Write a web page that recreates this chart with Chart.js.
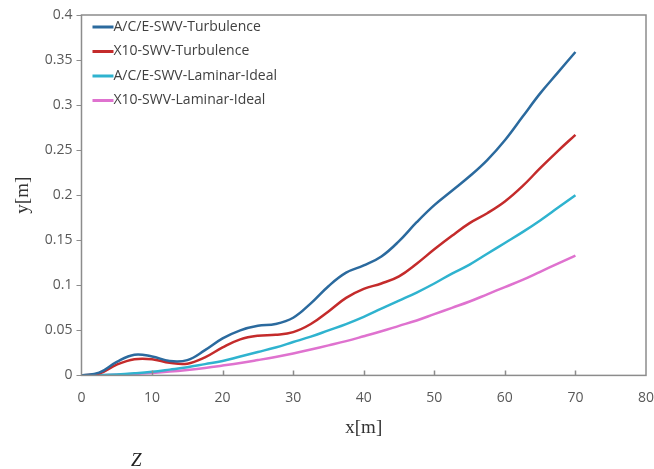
<!DOCTYPE html>
<html>
<head>
<meta charset="utf-8">
<script src="https://cdn.jsdelivr.net/npm/chart.js@4.4.1/dist/chart.umd.min.js"></script>
<style>
  html, body { margin: 0; padding: 0; background: #fff; }
  #wrap { position: relative; width: 654px; height: 469px; }
  #zlabel { position: absolute; left: 131px; top: 449px; font: italic 19px "Liberation Serif", serif; color: #222; }
</style>
</head>
<body>
<div id="wrap">
  <canvas id="trajChart" width="654" height="469"></canvas>
  <div id="zlabel">Z</div>
</div>
<script>
// x positions [m]
const xValues = [0, 2.5, 5, 7.5, 10, 12.5, 15, 17.5, 20, 22.5, 25, 27.5, 30, 32.5, 35,
  37.5, 40, 42.5, 45, 47.5, 50, 52.5, 55, 57.5, 60, 62.5, 65, 67.5, 70];

const seriesLabels = ["A/C/E-SWV-Turbulence", "X10-SWV-Turbulence",
  "A/C/E-SWV-Laminar-Ideal", "X10-SWV-Laminar-Ideal"];
const seriesColors = ["#2b6a9e", "#c42b2b", "#2fb3cf", "#df72cf"];

const aceTurb = [0, 0.003, 0.015, 0.023, 0.021, 0.016, 0.017, 0.028, 0.041, 0.050, 0.055,
  0.057, 0.064, 0.080, 0.099, 0.114, 0.122, 0.132, 0.149, 0.170, 0.189, 0.205, 0.221,
  0.239, 0.261, 0.287, 0.313, 0.336, 0.359];
const x10Turb = [0, 0.002, 0.012, 0.018, 0.018, 0.014, 0.013, 0.020, 0.031, 0.040, 0.044,
  0.045, 0.048, 0.057, 0.071, 0.086, 0.096, 0.102, 0.110, 0.124, 0.140, 0.155, 0.169,
  0.180, 0.193, 0.210, 0.230, 0.249, 0.267];
const aceLam = [0, 0.0003, 0.001, 0.0023, 0.004, 0.0064, 0.009, 0.0125, 0.016, 0.021, 0.026,
  0.031, 0.037, 0.043, 0.050, 0.057, 0.065, 0.074, 0.083, 0.092, 0.102, 0.113, 0.123,
  0.135, 0.147, 0.159, 0.172, 0.186, 0.200];
const x10Lam = [0, 0.0002, 0.0007, 0.0015, 0.0027, 0.0042, 0.0061, 0.0083, 0.0109, 0.0137,
  0.017, 0.0205, 0.0244, 0.0287, 0.0333, 0.038, 0.0434, 0.049, 0.055, 0.061, 0.068, 0.075,
  0.082, 0.090, 0.098, 0.106, 0.115, 0.124, 0.133];

const allSeries = [aceTurb, x10Turb, aceLam, x10Lam];

const toPoints = ys => ys.map((y, i) => ({ x: xValues[i], y: y }));

// box around plot, inward x ticks and legend inside the plot
const framePlugin = {
  id: "frame",
  afterDraw(chart) {
    const { ctx, chartArea: a } = chart;
    const xs = chart.scales.x;
    ctx.save();
    ctx.strokeStyle = "#8c8c8c";
    ctx.lineWidth = 1.5;
    ctx.strokeRect(a.left, a.top, a.right - a.left, a.bottom - a.top);
    ctx.beginPath();
    for (let v = 10; v < 80; v += 10) {
      const px = Math.round(xs.getPixelForValue(v)) + 0.5;
      ctx.moveTo(px, a.bottom);
      ctx.lineTo(px, a.bottom - 5);
    }
    ctx.stroke();

    ctx.font = "14px 'Open Sans', sans-serif";
    ctx.textBaseline = "middle";
    chart.data.datasets.forEach((ds, i) => {
      const y = a.top + 12 + i * 24.5;
      ctx.strokeStyle = ds.borderColor;
      ctx.lineWidth = 3;
      ctx.beginPath();
      ctx.moveTo(a.left + 11, y);
      ctx.lineTo(a.left + 32, y);
      ctx.stroke();
      ctx.fillStyle = "#404040";
      ctx.fillText(ds.label, a.left + 32, y);
    });
    ctx.restore();
  }
};

new Chart(document.getElementById("trajChart").getContext("2d"), {
  type: "line",
  data: {
    datasets: allSeries.map((ys, i) => ({
      label: seriesLabels[i],
      data: toPoints(ys),
      borderColor: seriesColors[i],
      backgroundColor: seriesColors[i],
      borderWidth: 2.5,
      pointRadius: 0,
      tension: 0.4,
      fill: false
    }))
  },
  options: {
    responsive: false,
    animation: false,
    layout: { padding: { left: 8, right: 0, top: 15, bottom: 26 } },
    plugins: {
      legend: { display: false },
      tooltip: { enabled: false }
    },
    scales: {
      x: {
        type: "linear",
        min: 0,
        max: 80,
        afterFit: s => { s.paddingRight = 8; },
        ticks: { stepSize: 10, color: "#595959", font: { size: 14, family: "'Open Sans', sans-serif" }, padding: 6 },
        grid: { display: false },
        border: { display: false },
        title: { display: true, text: "x[m]", color: "#333", font: { size: 19, family: "'Liberation Serif', serif" }, padding: { top: 4 } }
      },
      y: {
        min: 0,
        max: 0.4,
        ticks: {
          stepSize: 0.05, color: "#595959", font: { size: 14, family: "'Open Sans', sans-serif" }, padding: 4,
          callback: v => String(parseFloat(v.toFixed(2)))
        },
        grid: { display: true, drawOnChartArea: false, drawTicks: true, tickLength: 5, color: "#8c8c8c" },
        border: { display: false },
        title: { display: true, text: "y[m]", color: "#333", font: { size: 19, family: "'Liberation Serif', serif" }, padding: { bottom: 6 } }
      }
    }
  },
  plugins: [framePlugin]
});
</script>
</body>
</html>
